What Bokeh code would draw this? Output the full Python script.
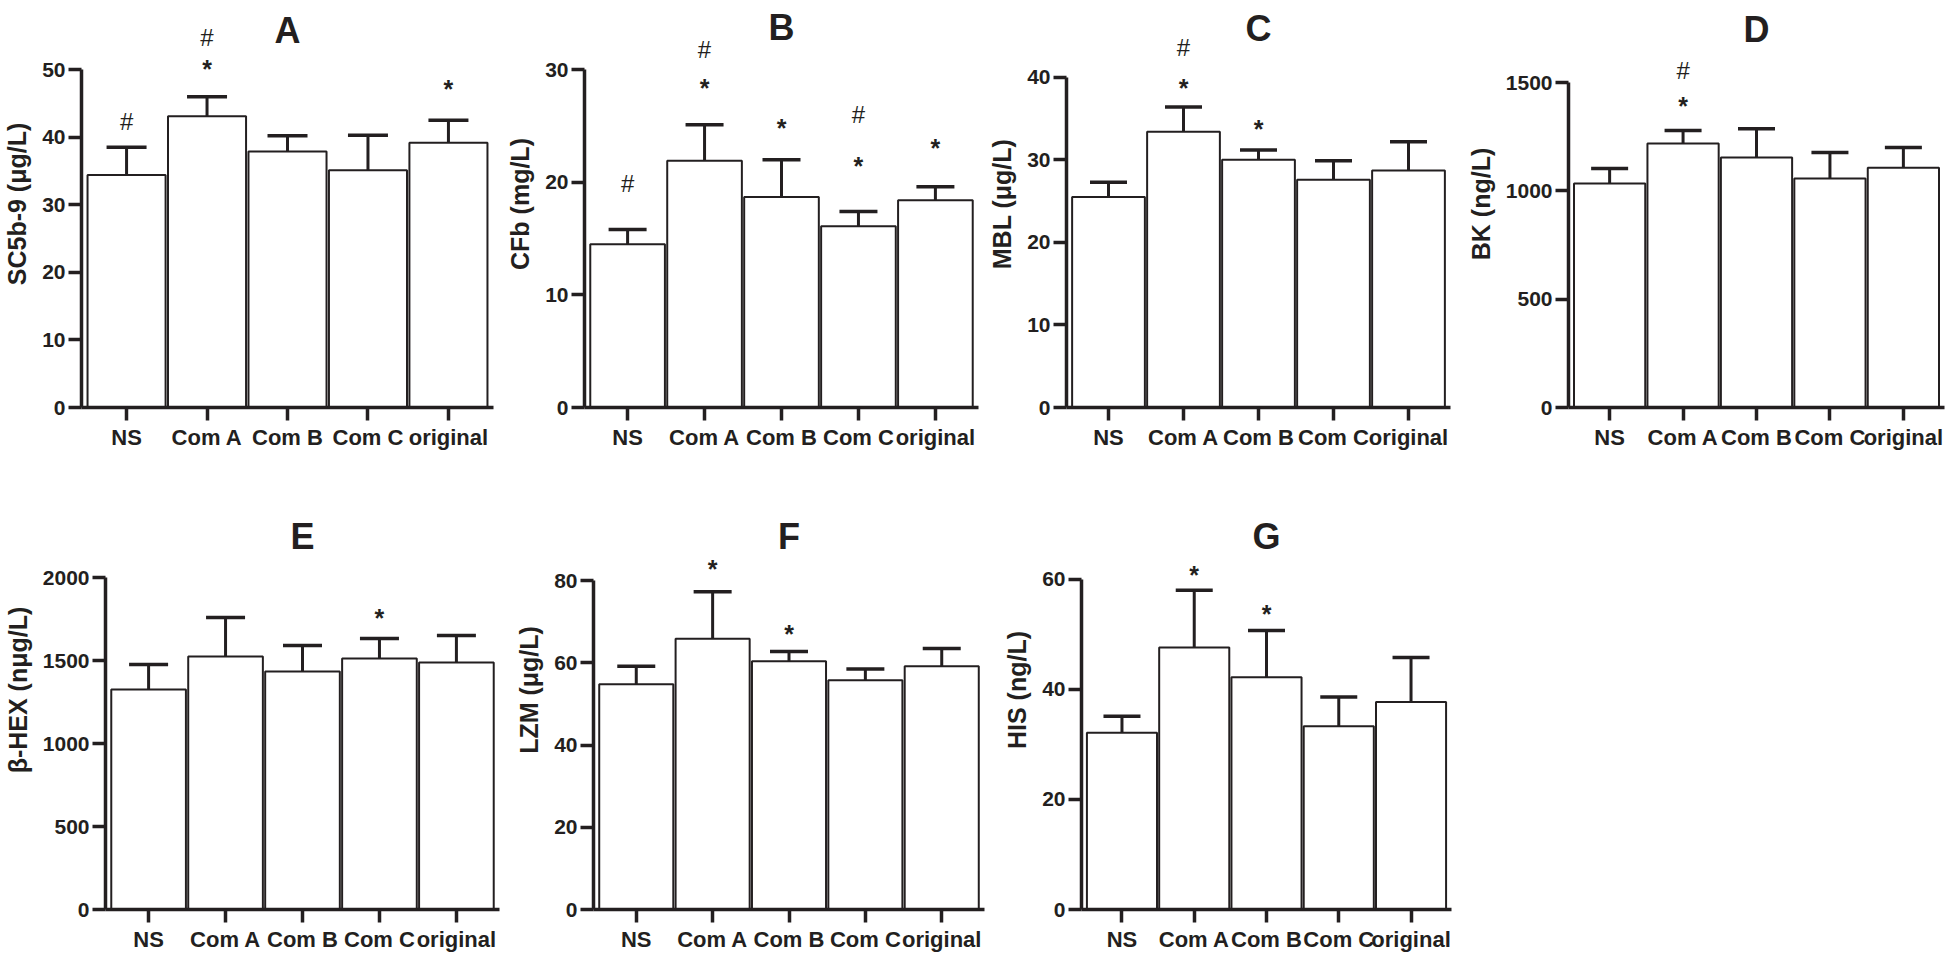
from bokeh.plotting import figure
from bokeh.models import FactorRange, Range1d, FixedTicker, Whisker, TeeHead, ColumnDataSource
from bokeh.layouts import column, row
from bokeh.embed import file_html
from bokeh.resources import INLINE
from bokeh.core.properties import value

categories = ["NS", "Com A", "Com B", "Com C", "original"]

# Panel A: SC5b-9
sc5b9_mean = [34.4, 43.1, 37.9, 35.1, 39.2]
sc5b9_err = [4.1, 2.9, 2.3, 5.2, 3.3]
sc5b9_ticks = [0, 10, 20, 30, 40, 50]
sc5b9_marks = [("NS", "#", 42.3), ("Com A", "#", 54.7), ("Com A", "*", 51.2), ("original", "*", 48.1)]

# Panel B: CFb
cfb_mean = [14.5, 21.9, 18.7, 16.1, 18.4]
cfb_err = [1.3, 3.2, 3.3, 1.3, 1.2]
cfb_ticks = [0, 10, 20, 30]
cfb_marks = [("NS", "#", 19.9), ("Com A", "#", 31.8), ("Com A", "*", 29.0), ("Com B", "*", 25.4),
             ("Com C", "#", 26.0), ("Com C", "*", 22.1), ("original", "*", 23.7)]

# Panel C: MBL
mbl_mean = [25.5, 33.4, 30.0, 27.6, 28.7]
mbl_err = [1.8, 3.0, 1.2, 2.3, 3.5]
mbl_ticks = [0, 10, 20, 30, 40]
mbl_marks = [("Com A", "#", 43.6), ("Com A", "*", 39.5), ("Com B", "*", 34.6)]

# Panel D: BK
bk_mean = [1034, 1218, 1154, 1057, 1107]
bk_err = [69, 60, 133, 120, 93]
bk_ticks = [0, 500, 1000, 1500]
bk_marks = [("Com A", "#", 1555), ("Com A", "*", 1425)]

# Panel E: beta-HEX
hex_mean = [1325, 1524, 1434, 1512, 1488]
hex_err = [151, 235, 156, 120, 163]
hex_ticks = [0, 500, 1000, 1500, 2000]
hex_marks = [("Com C", "*", 1801)]

# Panel F: LZM
lzm_mean = [54.8, 65.9, 60.4, 55.8, 59.2]
lzm_err = [4.4, 11.4, 2.4, 2.7, 4.3]
lzm_ticks = [0, 20, 40, 60, 80]
lzm_marks = [("Com A", "*", 84.5), ("Com B", "*", 68.8)]

# Panel G: HIS
his_mean = [32.1, 47.6, 42.2, 33.3, 37.7]
his_err = [3.0, 10.4, 8.5, 5.3, 8.1]
his_ticks = [0, 20, 40, 60]
his_marks = [("Com A", "*", 62.0), ("Com B", "*", 54.9)]

INK = "#231f20"
LABEL_FONT = "Liberation Sans"
SYM_FONT = "Liberation Sans"

# layout (page pixels): fig_left, fig_right, frame_left, frame_right, axis_y, top_tick_y, title_y, row_top, row_bottom
panels = [
    ("A", "SC5b-9 (μg/L)", sc5b9_mean, sc5b9_err, sc5b9_ticks, sc5b9_marks, (0, 503, 79, 493, 412, 70, 30, 0, 470)),
    ("B", "CFb (mg/L)", cfb_mean, cfb_err, cfb_ticks, cfb_marks, (503, 984, 581, 978, 412, 70, 27, 0, 470)),
    ("C", "MBL (μg/L)", mbl_mean, mbl_err, mbl_ticks, mbl_marks, (984, 1463, 1066, 1450, 408, 77, 28, 0, 470)),
    ("D", "BK (ng/L)", bk_mean, bk_err, bk_ticks, bk_marks, (1463, 1950, 1559, 1944, 407, 82, 29, 0, 470)),
    ("E", "β-HEX (nμg/L)", hex_mean, hex_err, hex_ticks, hex_marks, (0, 512, 97, 499, 909, 577, 536, 470, 956)),
    ("F", "LZM (μg/L)", lzm_mean, lzm_err, lzm_ticks, lzm_marks, (512, 1000, 589, 984, 912, 581, 536, 470, 956)),
    ("G", "HIS (ng/L)", his_mean, his_err, his_ticks, his_marks, (1000, 1460, 1071, 1451, 910, 579, 536, 470, 956)),
]


def make_panel(title, ylabel, mean, err, ticks, marks, lay):
    fig_l, fig_r, fr_l, fr_r, ax_y, tk_y, ti_y, row_t, row_b = lay
    tmax = ticks[-1]
    ppu = (ax_y - tk_y) / tmax
    y_end = (ax_y - row_t) / ppu
    pad = 0.06
    p = figure(
        width=fig_r - fig_l, height=row_b - row_t,
        x_range=FactorRange(*categories, range_padding=pad, range_padding_units="absolute"),
        y_range=Range1d(0, y_end),
        min_border_left=fr_l - fig_l, min_border_right=(fig_r - fig_l) - (fr_l - fig_l) - (fr_r - fr_l),
        min_border_top=0, min_border_bottom=row_b - ax_y,
        output_backend="svg", toolbar_location=None,
    )
    p.outline_line_color = None
    p.grid.visible = False
    p.background_fill_color = "white"
    p.border_fill_color = "white"

    src = ColumnDataSource(dict(cat=categories, mean=mean, upper=[m + e for m, e in zip(mean, err)]))
    p.vbar(x="cat", top="mean", bottom=0, width=0.97, source=src,
           fill_color="white", line_color=INK, line_width=2)
    band = (fr_r - fr_l) / (5 + 2 * pad)
    w = Whisker(base="cat", lower="mean", upper="upper", source=src,
                line_color=INK, line_width=3,
                upper_head=TeeHead(size=int(band * 0.5), line_color=INK, line_width=3.5),
                lower_head=None)
    p.add_layout(w)

    hx = [m[0] for m in marks if m[1] == "#"]
    hy = [m[2] for m in marks if m[1] == "#"]
    sx = [m[0] for m in marks if m[1] == "*"]
    sy = [m[2] for m in marks if m[1] == "*"]
    if hx:
        p.text(x=hx, y=hy, text=["#"] * len(hx), text_align="center", text_baseline="middle",
               text_font=value(SYM_FONT), text_font_size="24px", text_color=INK)
    if sx:
        p.text(x=sx, y=sy, text=["*"] * len(sx), text_align="center", text_baseline="middle",
               y_offset=7, text_font=value(SYM_FONT), text_font_size="25px",
               text_font_style="bold", text_color=INK)

    title_val = (ax_y - ti_y) / ppu
    p.text(x=["Com B"], y=[title_val], text=[title], text_align="center", text_baseline="middle",
           text_font=value("Liberation Sans"), text_font_size="36px", text_font_style="bold",
           text_color=INK)

    xa = p.xaxis[0]
    xa.axis_line_width = 3.5
    xa.axis_line_color = INK
    xa.major_tick_line_width = 3.5
    xa.major_tick_line_color = INK
    xa.major_tick_out = 13
    xa.major_tick_in = 0
    xa.major_label_standoff = 4
    xa.major_label_text_font = LABEL_FONT
    xa.major_label_text_font_size = "22px"
    xa.major_label_text_font_style = "bold"
    xa.major_label_text_color = INK

    ya = p.yaxis[0]
    ya.ticker = FixedTicker(ticks=ticks)
    ya.bounds = (0, tmax)
    ya.minor_tick_line_color = None
    ya.axis_line_width = 3.5
    ya.axis_line_color = INK
    ya.major_tick_line_width = 3.5
    ya.major_tick_line_color = INK
    ya.major_tick_out = 13
    ya.major_tick_in = 0
    ya.major_label_standoff = 3
    ya.major_label_text_font = LABEL_FONT
    ya.major_label_text_font_size = "21px"
    ya.major_label_text_font_style = "bold"
    ya.major_label_text_color = INK
    ya.axis_label = ylabel
    ya.axis_label_standoff = 8
    ya.axis_label_text_font = LABEL_FONT
    ya.axis_label_text_font_size = "25px"
    ya.axis_label_text_font_style = "bold"
    ya.axis_label_text_color = INK
    return p


figs = [make_panel(*pnl) for pnl in panels]
layout = column(row(*figs[:4]), row(*figs[4:]))

with open("out.html", "w") as f:
    f.write(file_html(layout, INLINE))
